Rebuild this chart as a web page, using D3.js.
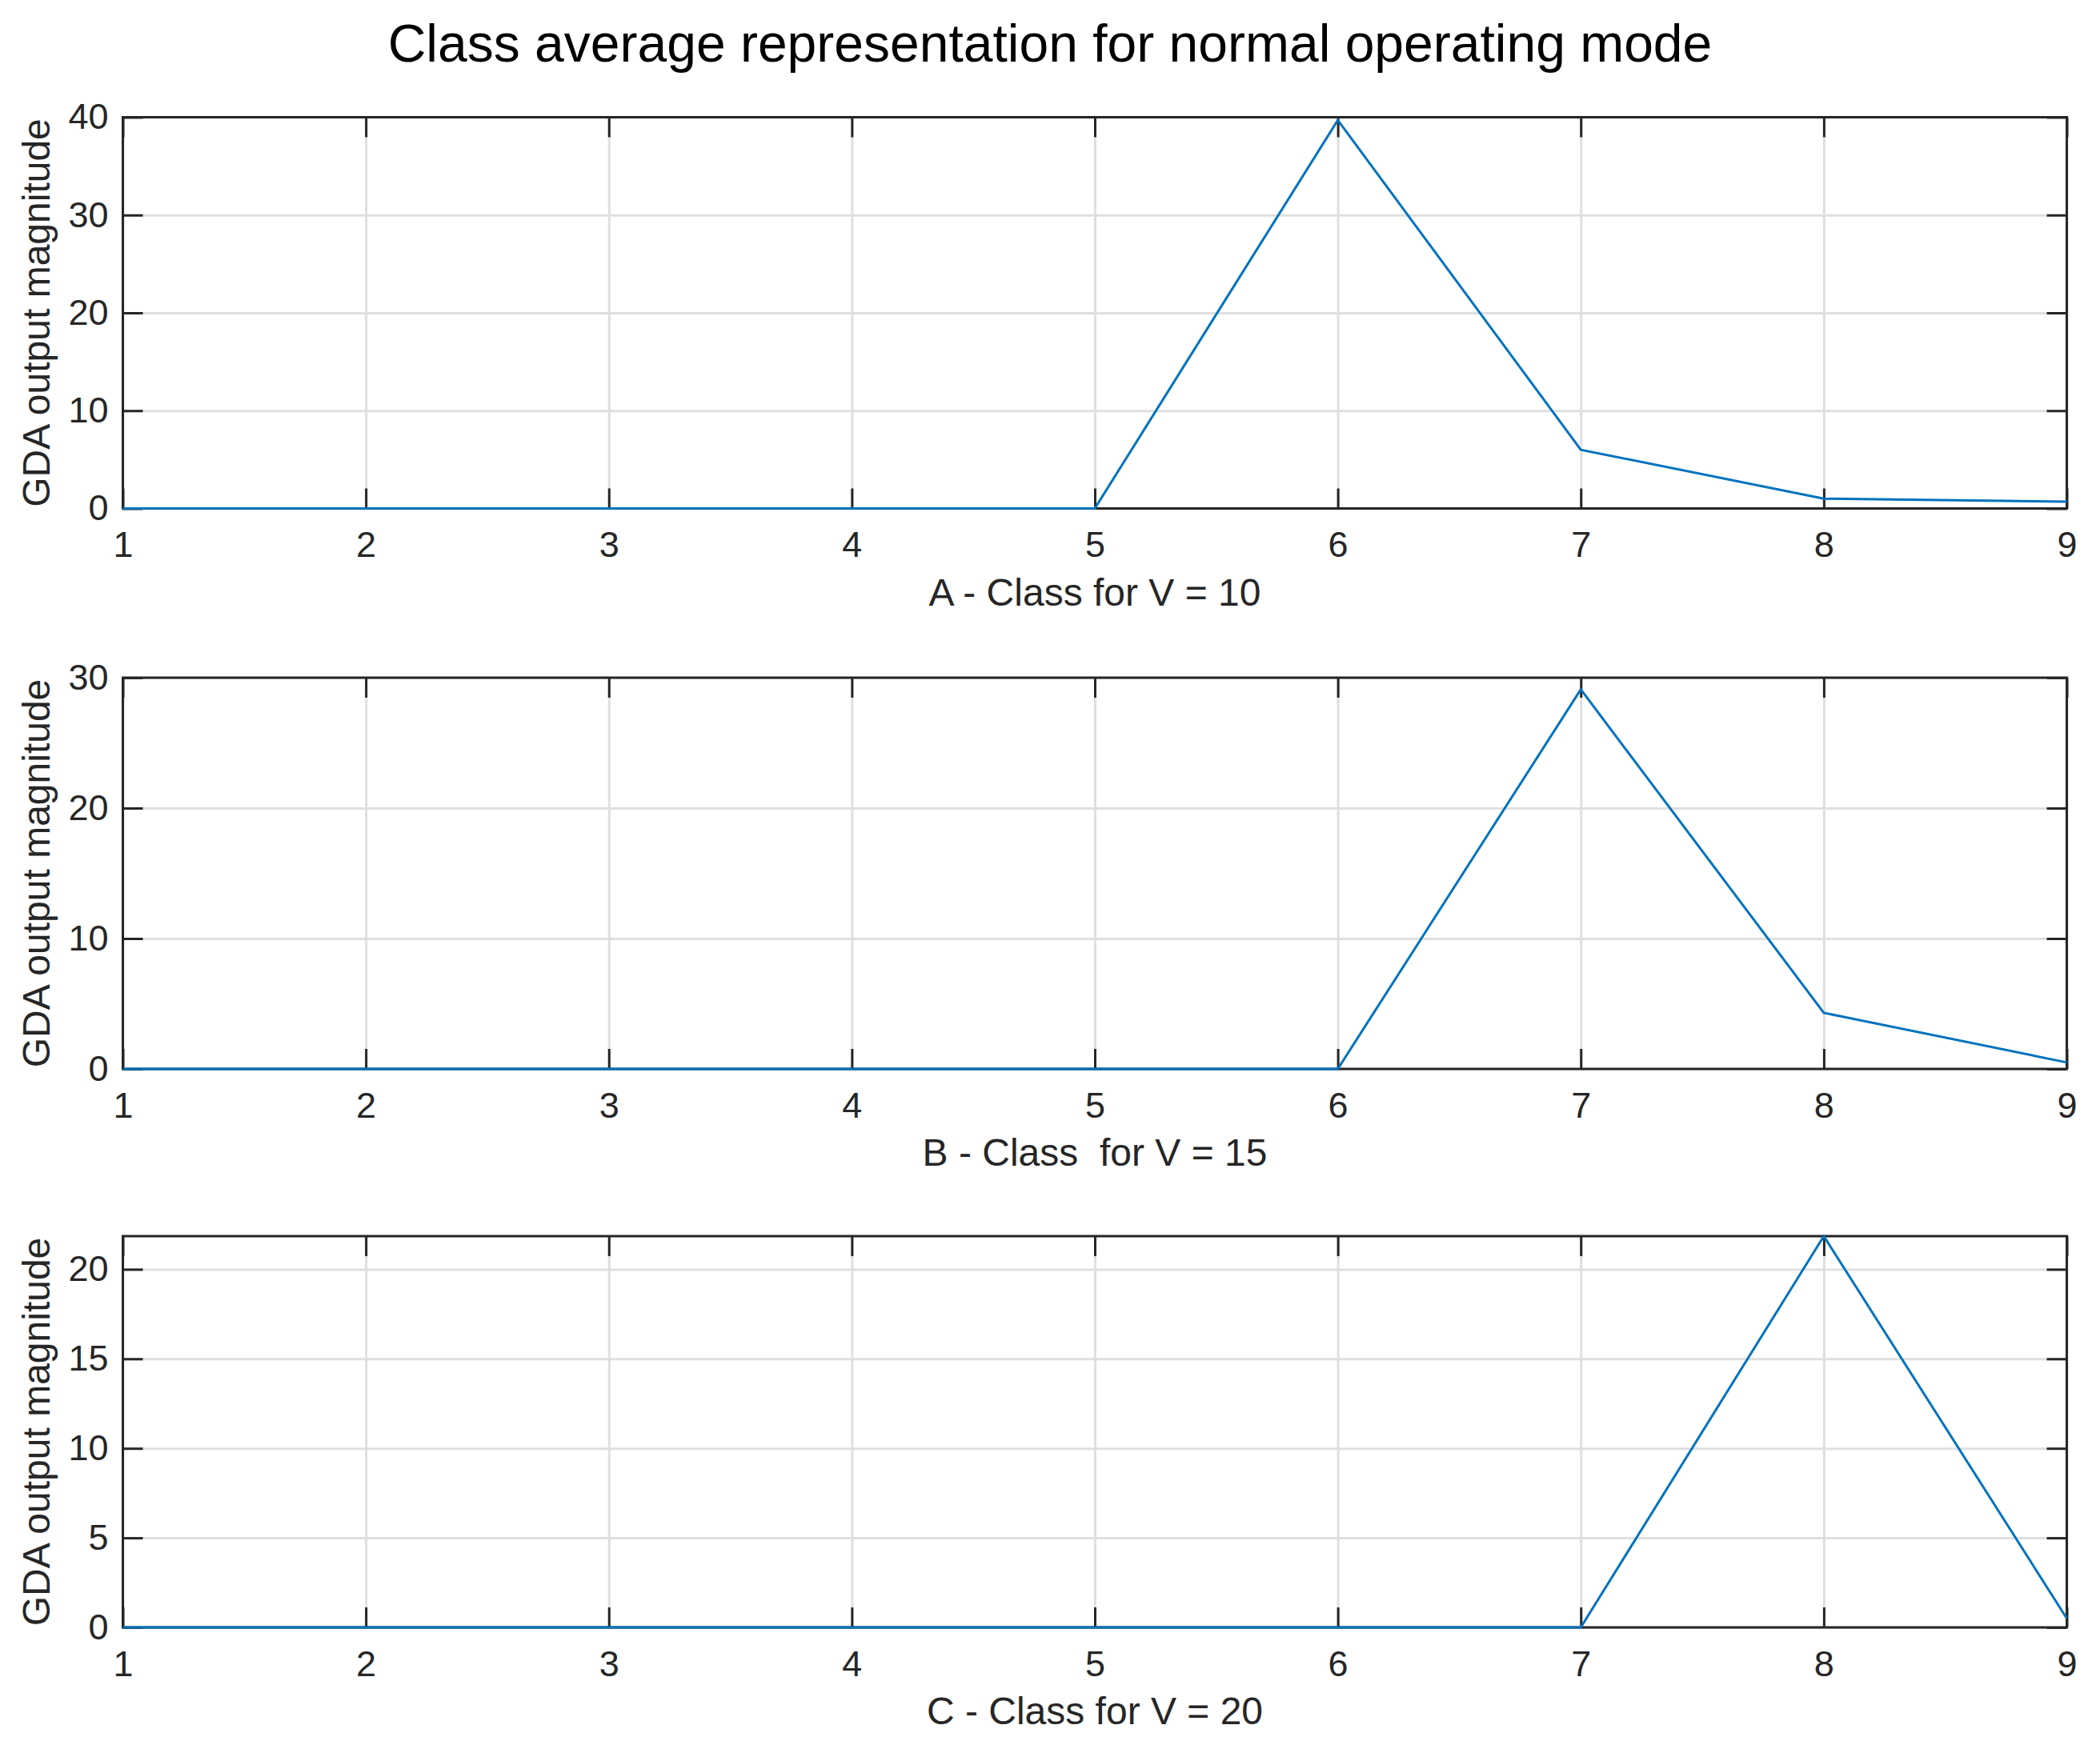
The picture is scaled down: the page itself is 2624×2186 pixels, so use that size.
<!DOCTYPE html>
<html>
<head>
<meta charset="utf-8">
<script src="https://cdn.jsdelivr.net/npm/d3@7"></script>
<style>
  html, body { margin: 0; padding: 0; background: #ffffff; }
  svg { display: block; font-family: "Liberation Sans", Arial, Helvetica, sans-serif; }
</style>
</head>
<body>
<script>
// ---- data ----
const classes = [1, 2, 3, 4, 5, 6, 7, 8, 9];
const seriesA = [0, 0, 0, 0, 0, 39.7, 6.0, 1.0, 0.7];
const seriesB = [0, 0, 0, 0, 0, 0, 29.1, 4.3, 0.5];
const seriesC = [0, 0, 0, 0, 0, 0, 0, 21.85, 0.5];
const yMaxes = [40, 30, 21.85];
const yTicksA = [0, 10, 20, 30, 40];
const yTicksB = [0, 10, 20, 30];
const yTicksC = [0, 5, 10, 15, 20];
const xLabels = ["A - Class for V = 10", "B - Class\u00a0 for V = 15", "C - Class for V = 20"];
const yLabel = "GDA output magnitude";
const title = "Class average representation for normal operating mode";

// ---- layout ----
const W = 2624, H = 2186;
const left = 153.5, right = 2582.5;
const tops = [146.5, 847, 1545];
const ph = 489;
const axisColor = "#262626";
const gridColor = "#dfdfdf";
const lineColor = "#0072BD";
const tickFont = 45, labelFont = 48, titleFont = 66;
const tickLen = 25;

const svg = d3.select("body").append("svg")
  .attr("width", W).attr("height", H);

svg.append("text")
  .attr("x", W / 2).attr("y", 77)
  .attr("text-anchor", "middle")
  .attr("font-size", titleFont)
  .attr("fill", "#000")
  .text(title);

const panels = [
  { data: seriesA, ticks: yTicksA, ymax: yMaxes[0], xlabel: xLabels[0] },
  { data: seriesB, ticks: yTicksB, ymax: yMaxes[1], xlabel: xLabels[1] },
  { data: seriesC, ticks: yTicksC, ymax: yMaxes[2], xlabel: xLabels[2] }
];

const x = d3.scaleLinear().domain([1, 9]).range([left, right]);

panels.forEach((p, i) => {
  const top = tops[i], bottom = top + ph;
  const y = d3.scaleLinear().domain([0, p.ymax]).range([bottom, top]);
  const g = svg.append("g");

  // grid
  const gx = g.append("g").attr("transform", `translate(0,${bottom})`)
    .call(d3.axisBottom(x).tickValues(classes).tickSize(-ph).tickFormat(""));
  const gy = g.append("g").attr("transform", `translate(${left},0)`)
    .call(d3.axisLeft(y).tickValues(p.ticks).tickSize(-(right - left)).tickFormat(""));
  [gx, gy].forEach(a => {
    a.select(".domain").remove();
    a.selectAll("line").attr("stroke", gridColor).attr("stroke-width", 3);
  });

  // ticks + labels
  const ab = g.append("g").attr("transform", `translate(0,${bottom})`)
    .call(d3.axisBottom(x).tickValues(classes).tickSize(-tickLen).tickPadding(29).tickFormat(d3.format("d")));
  const at = g.append("g").attr("transform", `translate(0,${top})`)
    .call(d3.axisTop(x).tickValues(classes).tickSize(-tickLen).tickFormat(""));
  const al = g.append("g").attr("transform", `translate(${left},0)`)
    .call(d3.axisLeft(y).tickValues(p.ticks).tickSize(-tickLen).tickPadding(18).tickFormat(d3.format("d")));
  const ar = g.append("g").attr("transform", `translate(${right},0)`)
    .call(d3.axisRight(y).tickValues(p.ticks).tickSize(-tickLen).tickFormat(""));
  [ab, at, al, ar].forEach(a => {
    a.select(".domain").remove();
    a.selectAll("line").attr("stroke", axisColor).attr("stroke-width", 3);
    a.selectAll("text").attr("fill", axisColor).attr("font-size", tickFont)
      .attr("font-family", "Liberation Sans, Arial, Helvetica, sans-serif");
  });

  // frame
  g.append("rect")
    .attr("x", left).attr("y", top)
    .attr("width", right - left).attr("height", ph)
    .attr("fill", "none").attr("stroke", axisColor).attr("stroke-width", 3);

  // data line
  const line = d3.line().x((d, j) => x(classes[j])).y(d => y(d));
  g.append("path")
    .datum(p.data)
    .attr("d", line)
    .attr("fill", "none")
    .attr("stroke", lineColor)
    .attr("stroke-width", 3)
    .attr("stroke-linejoin", "miter");

  // x label
  g.append("text")
    .attr("x", (left + right) / 2).attr("y", bottom + 121)
    .attr("text-anchor", "middle")
    .attr("font-size", labelFont)
    .attr("fill", axisColor)
    .text(p.xlabel);

  // y label
  g.append("text")
    .attr("transform", `translate(62,${(top + bottom) / 2}) rotate(-90)`)
    .attr("text-anchor", "middle")
    .attr("font-size", labelFont)
    .attr("fill", axisColor)
    .text(yLabel);
});
</script>
</body>
</html>
